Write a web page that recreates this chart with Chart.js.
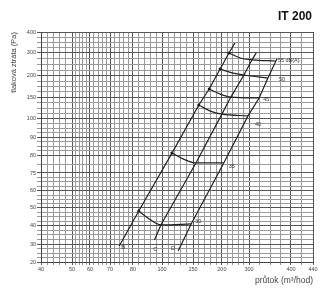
<!DOCTYPE html>
<html>
<head>
<meta charset="utf-8">
<script src="https://cdn.jsdelivr.net/npm/chart.js@4.4.0/dist/chart.umd.min.js"></script>
<style>
  html, body { margin: 0; padding: 0; background: #fff; }
  #wrap { width: 320px; height: 291px; }
</style>
</head>
<body>
<div id="wrap"><canvas id="graf"></canvas></div>
<script>
var flowTicks = [40, 50, 60, 70, 80, 100, 150, 200, 300, 400, 440]
var pressTicks = [20, 30, 40, 50, 60, 75, 80, 90, 100, 150, 200, 300, 400]

// system lines B, C, D: bottom end, points at 30..55 dB(A), top end
var bFlow = [74, 84, 116, 160, 178, 197, 226, 248]
var bPress = [28.9, 48.3, 81.1, 132, 169, 230, 300, 348]
var cFlow = [94.8, 99.3, 155, 200, 233, 281, 307, 317]
var cPress = [32.2, 40.6, 77.8, 111, 150, 204, 270, 300]
var dFlow = [126, 147, 207, 296, 324, 345, 364, 367]
var dPress = [26.1, 41.1, 77.8, 107, 148, 195, 265, 274]

// noise curves go B -> bend -> C -> D
var noiseLevels = [30, 35, 40, 45, 50, 55]
var bendFlow = [91.7, 135.5, 180, 197, 237, 268]
var bendPress = [43.6, 78.8, 118, 157, 213, 278]

// the printed axes are not log, so the scale is split into pieces between the tick labels
var axisShape = {
  x: { stops: flowTicks, fractions: [0, 0.114, 0.180, 0.254, 0.338, 0.445, 0.559, 0.665, 0.765, 0.919, 1], divisions: [5, 5, 5, 5, 5, 5, 5, 5, 4, 2] },
  y: { stops: pressTicks, fractions: [0, 0.078, 0.157, 0.235, 0.309, 0.387, 0.465, 0.543, 0.622, 0.717, 0.809, 0.909, 1], divisions: [4, 4, 4, 4, 4, 2, 4, 4, 4, 4, 4, 4] }
}

class NomoScale extends Chart.LinearScale {
  determineDataLimits() {
    var s = axisShape[this.id].stops
    this.min = s[0]
    this.max = s[s.length - 1]
  }
  buildTicks() {
    var a = axisShape[this.id], out = []
    for (var i = 0; i < a.stops.length; i++) {
      out.push({ value: a.stops[i], major: true })
      if (i < a.stops.length - 1) {
        var n = a.divisions[i]
        for (var k = 1; k < n; k++) {
          out.push({ value: a.stops[i] + (a.stops[i + 1] - a.stops[i]) * k / n, major: false })
        }
      }
    }
    return out
  }
  getPixelForValue(value) {
    if (value === null || value === undefined) return NaN
    var s = axisShape[this.id].stops, f = axisShape[this.id].fractions
    var i = 0
    while (i < s.length - 2 && value > s[i + 1]) i++
    var dec = f[i] + (value - s[i]) / (s[i + 1] - s[i]) * (f[i + 1] - f[i])
    return this.getPixelForDecimal(dec)
  }
}
NomoScale.id = 'nomo'
NomoScale.defaults = Chart.LinearScale.defaults
Chart.register(NomoScale)

function pts(fx, py) {
  return fx.map(function (v, i) { return { x: v, y: py[i] } })
}

var datasets = [
  { label: 'B', data: pts(bFlow, bPress) },
  { label: 'C', data: pts(cFlow, cPress) },
  { label: 'D', data: pts(dFlow, dPress) }
].map(function (d) {
  d.borderColor = '#222'
  d.borderWidth = 1.2
  d.pointRadius = 0
  d.tension = 0
  return d
})

noiseLevels.forEach(function (db, i) {
  datasets.push({
    label: db + ' dB(A)',
    data: [
      { x: bFlow[i + 1], y: bPress[i + 1] },
      { x: bendFlow[i], y: bendPress[i] },
      { x: cFlow[i + 1], y: cPress[i + 1] },
      { x: dFlow[i + 1], y: dPress[i + 1] }
    ],
    borderColor: '#222',
    borderWidth: 1.2,
    cubicInterpolationMode: 'monotone',
    pointRadius: function (ctx) { return ctx.dataIndex === 0 ? 1.5 : 0 },
    pointBackgroundColor: '#111',
    pointBorderWidth: 0
  })
})

var noiseOff = [[4, -2], [5, 4], [7, 9], [4, 2], [11, 1], [2, 0]]

var popisky = {
  id: 'popisky',
  afterDatasetsDraw: function (chart) {
    var ctx = chart.ctx, sx = chart.scales.x, sy = chart.scales.y
    ctx.save()
    ctx.fillStyle = '#333'
    ctx.font = '5.5px "Liberation Sans", Arial, sans-serif'
    ctx.textBaseline = 'middle'
    ctx.textAlign = 'left'
    noiseLevels.forEach(function (db, i) {
      var t = i === noiseLevels.length - 1 ? db + ' dB(A)' : String(db)
      ctx.fillText(t, sx.getPixelForValue(dFlow[i + 1]) + noiseOff[i][0], sy.getPixelForValue(dPress[i + 1]) + noiseOff[i][1])
    })
    ctx.font = '6px "Liberation Sans", Arial, sans-serif'
    ctx.textAlign = 'center'
    ctx.fillText('B', sx.getPixelForValue(bFlow[0]) + 4, sy.getPixelForValue(bPress[0]) + 1)
    ctx.fillText('C', sx.getPixelForValue(cFlow[0]) + 1, sy.getPixelForValue(cPress[0]) + 9)
    ctx.fillText('D', sx.getPixelForValue(dFlow[0]) - 5, sy.getPixelForValue(dPress[0]) - 3)

    ctx.fillStyle = '#111'
    ctx.font = 'bold 12px "Liberation Sans", Arial, sans-serif'
    ctx.textAlign = 'right'
    ctx.fillText('IT 200', 312, 17)
    ctx.restore()
  }
}

function gridColor(ctx) {
  return ctx.tick && ctx.tick.major ? '#555' : '#9a9a9a'
}

function tickText(v, i, ticks) {
  return ticks[i].major ? String(v) : ''
}

var graf = new Chart(document.getElementById('graf'), {
  type: 'line',
  data: { datasets: datasets },
  options: {
    responsive: true,
    maintainAspectRatio: false,
    animation: false,
    events: [],
    layout: { padding: { top: 32, right: 7, left: 0, bottom: 0 } },
    plugins: { legend: { display: false }, tooltip: { enabled: false } },
    scales: {
      x: {
        type: 'nomo',
        grid: { color: gridColor, tickLength: 3 },
        border: { color: '#444' },
        ticks: { autoSkip: false, maxRotation: 0, padding: 1, color: '#444', font: { size: 5.5 }, callback: tickText },
        title: { display: true, text: 'průtok (m³/hod)', align: 'end', color: '#444', font: { size: 8.5 }, padding: { top: 0, bottom: 5 } },
        afterFit: function (s) { s.height = 29 }
      },
      y: {
        type: 'nomo',
        grid: { color: gridColor, tickLength: 4 },
        border: { color: '#444' },
        ticks: { autoSkip: false, padding: 1, color: '#444', font: { size: 5.5 }, callback: tickText },
        title: { display: true, text: 'tlaková ztráta (Pa)', align: 'end', color: '#444', font: { size: 7.5 }, padding: { top: 9, bottom: 0 } },
        afterFit: function (s) { s.width = 41 }
      }
    }
  },
  plugins: [popisky]
})
</script>
</body>
</html>
